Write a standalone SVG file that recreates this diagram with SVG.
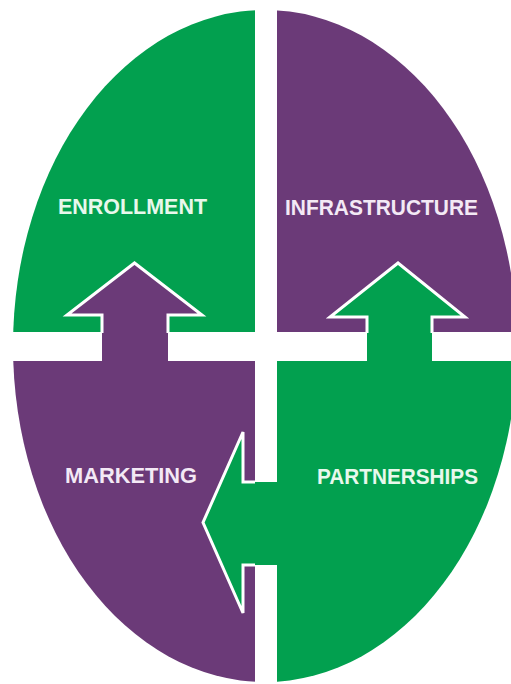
<svg xmlns="http://www.w3.org/2000/svg" width="511" height="684" viewBox="0 0 511 684">
  <style>
    .green { fill: #02a04f; }
    .purple { fill: #6b3a78; }
    .outline { fill: none; stroke: #ffffff; stroke-width: 3; stroke-linejoin: miter; }
    .label { font-family: "Liberation Sans", Arial, sans-serif; font-weight: bold; font-size: 22px; }
    .onGreen { fill: #e8f8ec; }
    .onPurple { fill: #f3e9f5; }
  </style>
  <defs>
    <clipPath id="oval">
      <ellipse cx="265" cy="346" rx="252" ry="336"/>
    </clipPath>
  </defs>
  <rect width="511" height="684" fill="#ffffff"/>
  <g id="enrollment">
    <rect class="green" x="0" y="0" width="255" height="332" clip-path="url(#oval)"/>
    <text class="label onGreen" x="58" y="214" textLength="149" lengthAdjust="spacingAndGlyphs">ENROLLMENT</text>
  </g>
  <g id="infrastructure">
    <rect class="purple" x="277" y="0" width="240" height="332" clip-path="url(#oval)"/>
    <text class="label onPurple" x="285" y="215" textLength="193" lengthAdjust="spacingAndGlyphs">INFRASTRUCTURE</text>
  </g>
  <g id="marketing">
    <rect class="purple" x="0" y="361" width="255" height="323" clip-path="url(#oval)"/>
    <text class="label onPurple" x="65" y="483" textLength="132" lengthAdjust="spacingAndGlyphs">MARKETING</text>
  </g>
  <g id="partnerships">
    <rect class="green" x="277" y="361" width="240" height="323" clip-path="url(#oval)"/>
    <text class="label onGreen" x="317" y="484" textLength="161" lengthAdjust="spacingAndGlyphs">PARTNERSHIPS</text>
  </g>
  <g id="connectors">
    <polygon class="purple" points="102,372 102,315 67,315 134.5,263 202,315 168,315 168,372"/>
    <polyline class="outline" points="102,333 102,315 67,315 134.5,263 202,315 168,315 168,333"/>
    <polygon class="green" points="367,372 367,317 330,317 398,263 465,317 432,317 432,372"/>
    <polyline class="outline" points="367,333 367,317 330,317 398,263 465,317 432,317 432,333"/>
    <polygon class="green" points="290,482 243,482 243,432 203,522.5 243,613 243,565 290,565"/>
    <polyline class="outline" points="255,482 243,482 243,432 203,522.5 243,613 243,565 255,565"/>
  </g>
</svg>
